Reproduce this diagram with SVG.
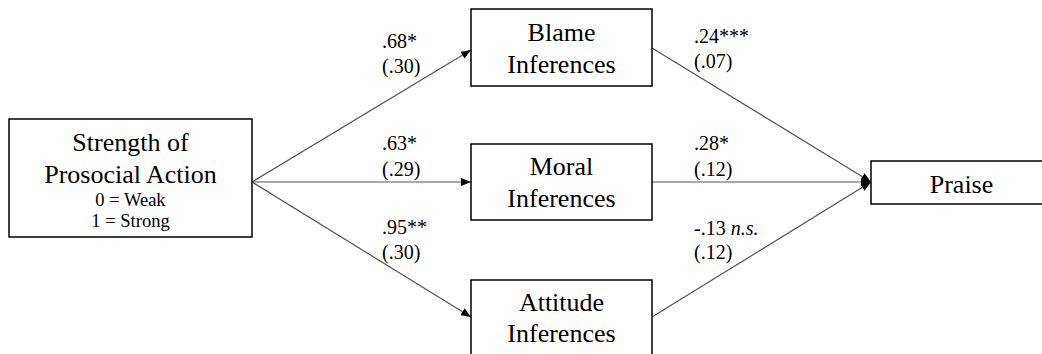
<svg xmlns="http://www.w3.org/2000/svg" width="1042" height="354" viewBox="0 0 1042 354">
<style>
.box{fill:#fff;stroke:#000;stroke-width:1.5}
.nt{font-family:"Liberation Serif","Times New Roman",serif;font-size:26px;fill:#000;text-anchor:middle}
.st{font-family:"Liberation Serif","Times New Roman",serif;font-size:18.5px;fill:#000;text-anchor:middle}
.lb{font-family:"Liberation Serif","Times New Roman",serif;font-size:20px;fill:#000}
.edge{stroke:#555;stroke-width:1.2;fill:none;marker-end:url(#ah)}
</style>
<defs>
<marker id="ah" markerUnits="userSpaceOnUse" markerWidth="10" markerHeight="8" refX="10" refY="4" orient="auto">
<path d="M0,0 L10,4 L0,8 z" fill="#000"/>
</marker>
</defs>
<rect width="1042" height="354" fill="#fff"/>
<g id="connectors">
<line class="edge" x1="252" y1="182" x2="471" y2="50"/>
<line class="edge" x1="252" y1="182" x2="471" y2="182"/>
<line class="edge" x1="252" y1="182" x2="471" y2="317"/>
<line class="edge" x1="652" y1="48" x2="871" y2="182"/>
<line class="edge" x1="652" y1="182" x2="871" y2="182"/>
<line class="edge" x1="652" y1="317" x2="871" y2="182"/>
<text class="lb" x="382" y="48">.68*</text>
<text class="lb" x="382" y="73">(.30)</text>
<text class="lb" x="382" y="150">.63*</text>
<text class="lb" x="382" y="176">(.29)</text>
<text class="lb" x="382" y="234">.95**</text>
<text class="lb" x="382" y="259">(.30)</text>
<text class="lb" x="694" y="43">.24***</text>
<text class="lb" x="694" y="68">(.07)</text>
<text class="lb" x="694" y="150">.28*</text>
<text class="lb" x="694" y="176">(.12)</text>
<text class="lb" x="694" y="235">-.13 <tspan font-style="italic">n.s.</tspan></text>
<text class="lb" x="694" y="259">(.12)</text>
</g>
<g id="strength">
<rect class="box" x="9" y="119" width="243" height="118"/>
<text class="nt" x="130.5" y="151">Strength of</text>
<text class="nt" x="130.5" y="183">Prosocial Action</text>
<text class="st" x="130.5" y="205.5">0 = Weak</text>
<text class="st" x="130.5" y="226.5">1 = Strong</text>
</g>
<g id="blame">
<rect class="box" x="471" y="9" width="181" height="77"/>
<text class="nt" x="561.5" y="41">Blame</text>
<text class="nt" x="561.5" y="73">Inferences</text>
</g>
<g id="moral">
<rect class="box" x="471" y="144" width="181" height="76"/>
<text class="nt" x="561.5" y="175">Moral</text>
<text class="nt" x="561.5" y="207">Inferences</text>
</g>
<g id="attitude">
<rect class="box" x="471" y="280" width="181" height="78"/>
<text class="nt" x="561.5" y="311">Attitude</text>
<text class="nt" x="561.5" y="342">Inferences</text>
</g>
<g id="praise">
<rect class="box" x="871" y="161" width="181" height="43"/>
<text class="nt" x="961.5" y="193">Praise</text>
</g>
</svg>
